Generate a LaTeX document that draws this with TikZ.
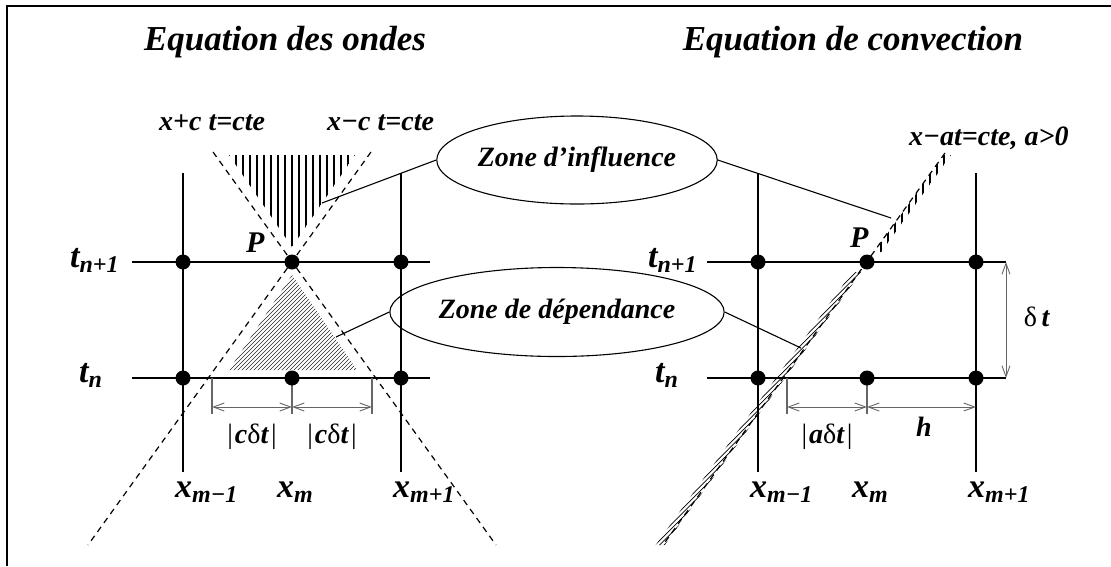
\documentclass[tikz,border=0pt]{standalone}
\usepackage{fontspec}
\setmainfont{Liberation Serif}
\usetikzlibrary{shapes.geometric,arrows.meta}
\newcommand\bisize[1]{\fontsize{#1}{#1}\selectfont\bfseries\itshape}
\newcommand\sbs[1]{\raisebox{-5pt}{\fontsize{24}{24}\selectfont\bfseries\itshape #1}}
\begin{document}
\begin{tikzpicture}[x=1pt,y=-1pt,
  gridl/.style={line width=1.5pt},
  dot/.style={circle,fill=black,inner sep=0pt,minimum size=15pt},
  charline/.style={dash pattern=on 6pt off 5pt, line width=1.2pt},
  dimarr/.style={line width=0.9pt, draw=black!60, {Straight Barb[length=11pt,width=8pt]}-{Straight Barb[length=11pt,width=8pt]}},
  dimtick/.style={line width=1.1pt, draw=black!60},
  conn/.style={line width=1.1pt},
  zone/.style={ellipse, draw, line width=1.1pt, inner sep=0pt, font=\bisize{28}},
  lbl/.style={inner sep=0pt, anchor=base west, font=\bisize{34}},
  eqlbl/.style={inner sep=0pt, anchor=base west, font=\bisize{28}},
  plbl/.style={inner sep=0pt, anchor=base west, font=\bisize{30}},
  title/.style={inner sep=0pt, anchor=base, font=\bisize{35}},
  vhatch/.style={line width=1.3pt},
  dhatch/.style={line width=0.4pt, draw=black!85},
  shatch/.style={line width=0.7pt}
]
\useasboundingbox (0,0) rectangle (1111,566);
% frame
\draw[line width=2pt] (7,566) -- (7,6) -- (1111,6);

% titles
\node[title] (tA) at (285,50) {Equation des ondes};
\node[title] (tB) at (853,50) {Equation de convection};

% ---------- hatches, left panel
\begin{scope}
\clip (229,155) -- (355,155) -- (292,247) -- cycle;
\foreach \x in {229,236,...,357} \draw[vhatch] (\x,150) -- (\x,250);
\end{scope}
\begin{scope}
\clip (292,275) -- (357,370) -- (229,370) -- cycle;
\foreach \k in {560,564,...,740} \draw[dhatch] ({\k-380},380) -- ({\k-260},260);
\end{scope}

% ---------- hatches, right panel
\begin{scope}
\clip (874.2,252) -- (944,155) -- (951,155) -- (881.2,252) -- cycle;
\foreach \x in {874,881,...,952} \draw[vhatch] (\x,150) -- (\x,255);
\end{scope}
\begin{scope}
\clip (861.3,272) -- (664.7,545) -- (655.7,545) -- (852.3,272) -- cycle;
\foreach \k in {1110,1114.5,...,1215} \draw[shatch] ({\k-600},600) -- ({\k-200},200);
\end{scope}

% ---------- grid left
\coordinate (lv1t) at (183,173); \coordinate (lv1b) at (183,472);
\coordinate (lv3t) at (401,173); \coordinate (lv3b) at (401,472);
\coordinate (lh1a) at (132,262); \coordinate (lh1b) at (430,262);
\coordinate (lh0a) at (132,378); \coordinate (lh0b) at (430,378);
\draw[gridl] (lv1t) -- (lv1b);
\draw[gridl] (lv3t) -- (lv3b);
\draw[gridl] (lh1a) -- (lh1b);
\draw[gridl] (lh0a) -- (lh0b);

% ---------- grid right
\coordinate (rv1t) at (758,173); \coordinate (rv1b) at (758,472);
\coordinate (rv3t) at (976,173); \coordinate (rv3b) at (976,472);
\coordinate (rh1a) at (707,262); \coordinate (rh1b) at (1006,262);
\coordinate (rh0a) at (707,378); \coordinate (rh0b) at (1006,378);
\draw[gridl] (rv1t) -- (rv1b);
\draw[gridl] (rv3t) -- (rv3b);
\draw[gridl] (rh1a) -- (rh1b);
\draw[gridl] (rh0a) -- (rh0b);

% ---------- characteristics
\coordinate (cA1) at (213,152); \coordinate (cA2) at (496,545);
\coordinate (cB1) at (371,152); \coordinate (cB2) at (88,545);
\coordinate (cC1) at (945,153); \coordinate (cC2) at (663,545);
\draw[charline] (cA1) -- (cA2);
\draw[charline] (cB1) -- (cB2);
\draw[charline] (cC1) -- (cC2);

% ---------- dimension ticks and arrows, left
\coordinate (lk1t) at (212,378); \coordinate (lk1b) at (212,414);
\coordinate (lk2t) at (292,378); \coordinate (lk2b) at (292,414);
\coordinate (lk3t) at (372,378); \coordinate (lk3b) at (372,414);
\draw[dimtick] (lk1t) -- (lk1b);
\draw[dimtick] (lk2t) -- (lk2b);
\draw[dimtick] (lk3t) -- (lk3b);
\coordinate (la1) at (212,407); \coordinate (la2) at (292,407); \coordinate (la3) at (372,407);
\draw[dimarr] (la1) -- (la2);
\draw[dimarr] (la2) -- (la3);

% ---------- dimension ticks and arrows, right
\coordinate (rk1t) at (787,378); \coordinate (rk1b) at (787,414);
\coordinate (rk2t) at (867,378); \coordinate (rk2b) at (867,414);
\draw[dimtick] (rk1t) -- (rk1b);
\draw[dimtick] (rk2t) -- (rk2b);
\coordinate (ra1) at (787,407); \coordinate (ra2) at (867,407); \coordinate (ra3) at (976,407);
\draw[dimarr] (ra1) -- (ra2);
\draw[dimarr] (ra2) -- (ra3);
\draw[dimarr] (rh1b) -- (rh0b);

% ---------- dots
\foreach \n/\x in {a/183,b/292,c/401,d/758,e/867,f/976}{
  \node[dot] (up\n) at (\x,262) {};
  \node[dot] (lo\n) at (\x,378) {};
}

% ---------- labels
\node[eqlbl] (eq1) at (159,130) {x+c t=cte};
\node[eqlbl] (eq2) at (327,130) {x−c t=cte};
\node[eqlbl] (eq3) at (909,145) {x−at=cte, a>0};
\node[plbl] (pL) at (246,252) {P};
\node[plbl] (pR) at (850,247) {P};

\node[lbl] (tn1L) at (70,267) {t\sbs{n+1}};
\node[lbl] (tnL) at (79,382) {t\sbs{n}};
\node[lbl] (tn1R) at (648,267) {t\sbs{n+1}};
\node[lbl] (tnR) at (655,382) {t\sbs{n}};

\node[lbl] (xaL) at (175,497) {x\sbs{m−1}};
\node[lbl] (xbL) at (277,497) {x\sbs{m}};
\node[lbl] (xcL) at (393,497) {x\sbs{m+1}};
\node[lbl] (xaR) at (750,497) {x\sbs{m−1}};
\node[lbl] (xbR) at (852,497) {x\sbs{m}};
\node[lbl] (xcR) at (968,497) {x\sbs{m+1}};

\node[inner sep=0pt, anchor=base, font=\fontsize{28}{28}\selectfont] (cd1) at (252,443) {|\kern2pt\textbf{\textit{c}}δ\textbf{\textit{t}}\kern2pt|};
\node[inner sep=0pt, anchor=base, font=\fontsize{28}{28}\selectfont] (cd2) at (332,443) {|\kern2pt\textbf{\textit{c}}δ\textbf{\textit{t}}\kern2pt|};
\node[inner sep=0pt, anchor=base, font=\fontsize{28}{28}\selectfont] (ad) at (827,443) {|\kern2pt\textbf{\textit{a}}δ\textbf{\textit{t}}\kern2pt|};
\node[inner sep=0pt, anchor=base, font=\bisize{28}] (hh) at (924,436) {h};
\node[inner sep=0pt, anchor=base, font=\fontsize{28}{28}\selectfont] (dtl) at (1037,326) {δ\,\textbf{\textit{t}}};

% ---------- zones
\node[zone, minimum width=220pt, minimum height=88pt] (infl) at (577,160) {Zone d’influence};
\node[zone, minimum width=274pt, minimum height=89pt] (dep) at (557,312) {Zone de dépendance};
\coordinate (iL) at (322,203); \coordinate (iR) at (891,218);
\coordinate (dL) at (336,337); \coordinate (dR) at (801,348);
\draw[conn] (infl.west) -- (iL);
\draw[conn] (infl.east) -- (iR);
\draw[conn] (dep.west) -- (dL);
\draw[conn] (dep.east) -- (dR);
\end{tikzpicture}
\end{document}
